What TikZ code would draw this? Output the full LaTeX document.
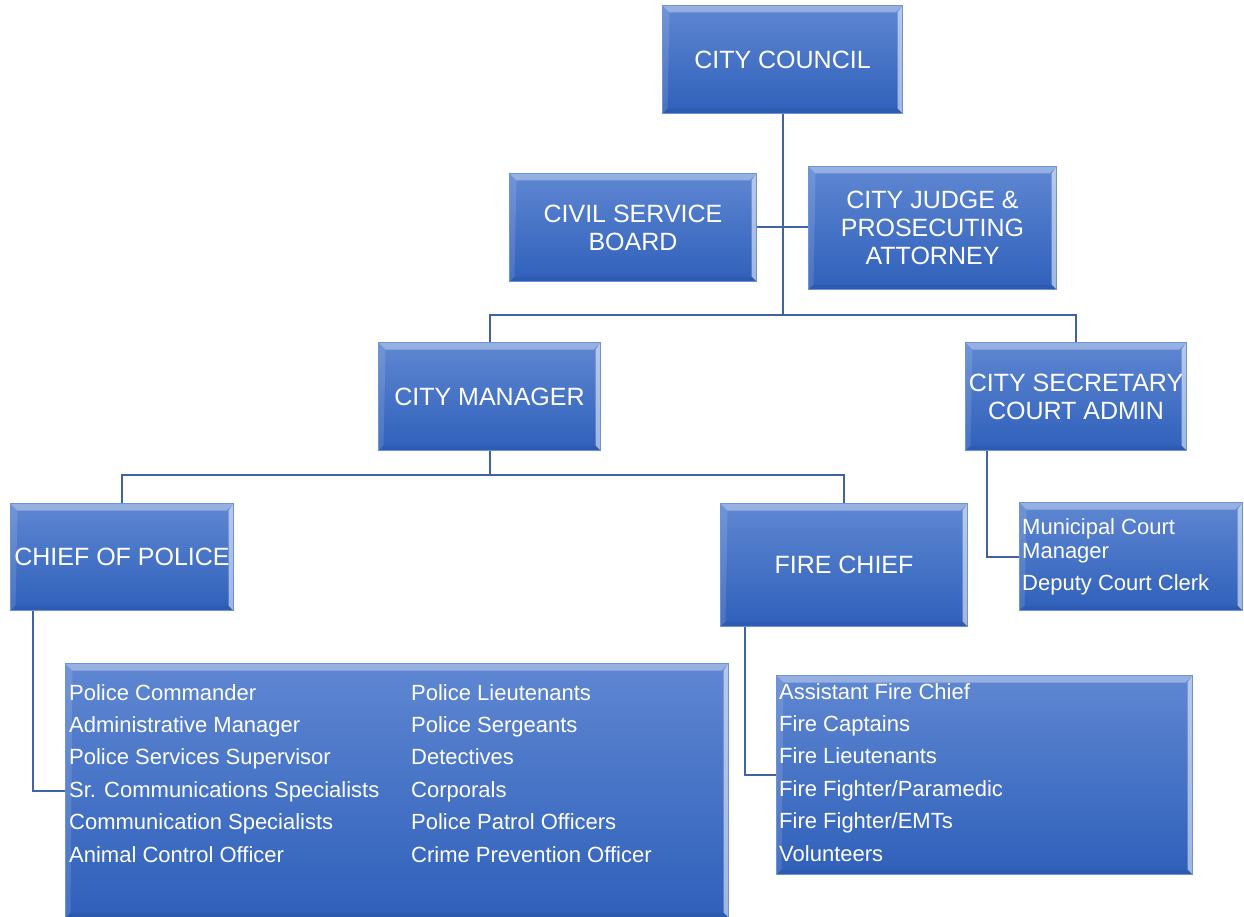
\documentclass[tikz,border=0pt]{standalone}
\usepackage{fontspec}
\setmainfont{Liberation Sans}
\definecolor{boxtop}{HTML}{5F87D2}
\definecolor{boxbot}{HTML}{2F60BA}
\definecolor{boxedge}{HTML}{6D92D6}
\definecolor{linecol}{HTML}{3F63A3}
\tikzset{
  orgbox/.style={rectangle, inner sep=2pt, top color=boxtop, bottom color=boxbot,
    draw=boxedge, line width=1pt, text=white, align=center,
    font=\fontsize{25}{28}\selectfont,
    path picture={
      \fill[white,opacity=0.35] (path picture bounding box.north west) -- (path picture bounding box.north east)
        -- ([xshift=-7pt,yshift=-7pt]path picture bounding box.north east) -- ([xshift=7pt,yshift=-7pt]path picture bounding box.north west) -- cycle;
      \fill[white,opacity=0.55] (path picture bounding box.north east) -- (path picture bounding box.south east)
        -- ([xshift=-5pt,yshift=5pt]path picture bounding box.south east) -- ([xshift=-5pt,yshift=-7pt]path picture bounding box.north east) -- cycle;
      \fill[white,opacity=0.12] (path picture bounding box.north west) -- (path picture bounding box.south west)
        -- ([xshift=5pt,yshift=5pt]path picture bounding box.south west) -- ([xshift=7pt,yshift=-7pt]path picture bounding box.north west) -- cycle;
      \fill[black,opacity=0.06] (path picture bounding box.south west) -- (path picture bounding box.south east)
        -- ([xshift=-5pt,yshift=5pt]path picture bounding box.south east) -- ([xshift=5pt,yshift=5pt]path picture bounding box.south west) -- cycle;
    }},
  listtext/.style={inner sep=0pt, text=white, align=left, anchor=north west,
    font=\fontsize{22}{32.4}\selectfont},
  conn/.style={draw=linecol, line width=2pt}
}
\begin{document}
\begin{tikzpicture}[x=1pt,y=-1pt]
\useasboundingbox (0,0) rectangle (1244,917);
% boxes
\node[orgbox, anchor=north west, minimum width=240pt, minimum height=108pt] (cc) at (662,5) {CITY COUNCIL};
\node[orgbox, anchor=north west, minimum width=247pt, minimum height=108pt] (csb) at (509,173) {CIVIL SERVICE\\BOARD};
\node[orgbox, anchor=north west, minimum width=248pt, minimum height=123pt] (judge) at (808,166) {CITY JUDGE \&\\PROSECUTING\\ATTORNEY};
\node[orgbox, anchor=north west, minimum width=222pt, minimum height=108pt] (cm) at (378,342) {CITY MANAGER};
\node[orgbox, anchor=north west, minimum width=221pt, minimum height=108pt] (cs) at (965,342) {CITY SECRETARY\\COURT ADMIN};
\node[orgbox, anchor=north west, minimum width=223pt, minimum height=107pt] (chief) at (10,503) {CHIEF OF POLICE};
\node[orgbox, anchor=north west, minimum width=247pt, minimum height=123pt] (fc) at (720,503) {FIRE CHIEF};
\node[orgbox, anchor=north west, minimum width=223pt, minimum height=108pt] (court) at (1019,502) {};
\node[orgbox, anchor=north west, minimum width=663pt, minimum height=254pt] (police) at (65,663) {};
\node[orgbox, anchor=north west, minimum width=416pt, minimum height=199pt] (fire) at (776,675) {};
% list texts
\node[listtext, font=\fontsize{22}{24}\selectfont] (courtA) at (1022,518) {Municipal Court\\Manager};
\node[listtext, font=\fontsize{22}{24}\selectfont] (courtB) at (1022,574) {Deputy Court Clerk};
\node[listtext] (polA) at (69,684) {Police Commander\\Administrative Manager\\Police Services Supervisor\\Sr. Communications Specialists\\Communication Specialists\\Animal Control Officer};
\node[listtext] (polB) at (411,684) {Police Lieutenants\\Police Sergeants\\Detectives\\Corporals\\Police Patrol Officers\\Crime Prevention Officer};
\node[listtext] (fireA) at (779,683) {Assistant Fire Chief\\Fire Captains\\Fire Lieutenants\\Fire Fighter/Paramedic\\Fire Fighter/EMTs\\Volunteers};
% connectors
\coordinate (j1) at (782,315);
\coordinate (j2) at (489,475);
\draw[conn] (cc.south) -- (cc.south |- j1);
\draw[conn] (csb.east) -- (csb.east -| judge.west);
\draw[conn] (cm.north) -- (cm.north |- j1) -- (cs.north |- j1) -- (cs.north);
\draw[conn] (cm.south) -- (cm.south |- j2);
\draw[conn] (chief.north) -- (chief.north |- j2) -- (fc.north |- j2) -- (fc.north);
\draw[conn] ([xshift=23pt]chief.south west) |- (police.west);
\draw[conn] ([xshift=25pt]fc.south west) |- (fire.west);
\draw[conn] ([xshift=22pt]cs.south west) |- (court.west);
\end{tikzpicture}
\end{document}
